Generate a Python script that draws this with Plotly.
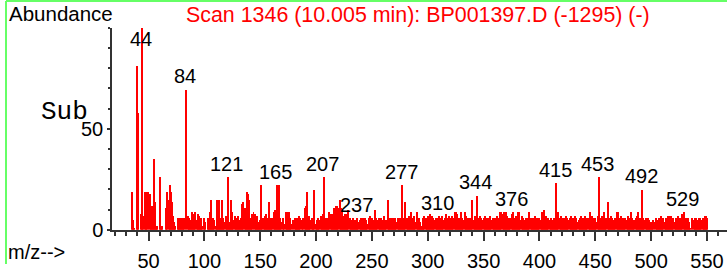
import plotly.graph_objects as go

# m/z start of the intensity table (one value per integer m/z)
MZ_START = 30
abundance = [
    0, 0, 0, 0, 0, 19, 5, 1, 0, 0,            # 30-39
    81, 58, 0, 8, 100, 7, 0, 19, 6, 19,       # 40-49
    19, 18, 4, 12, 11, 35, 14, 2, 2, 0,       # 50-59
    26, 2, 2, 0, 0, 0, 11, 19, 15, 22,        # 60-69
    19, 14, 7, 4, 2, 0, 6, 6, 5, 6,           # 70-79
    6, 3, 6, 0, 69.5, 7, 6, 5, 4, 9,          # 80-89
    8, 7, 9, 5, 8, 7, 4, 6, 2, 0,             # 90-99
    6, 4, 0, 6, 5, 9, 15, 4, 6, 5,            # 100-109
    2, 15, 6, 15, 5, 6, 15, 6, 4, 7,          # 110-119
    7, 26, 4, 3, 15, 9, 5, 7, 6, 4,           # 120-129
    7, 5, 4, 6, 13, 14, 11, 4, 19, 18,        # 130-139
    15, 6, 3, 8, 9, 8, 6, 7, 4, 2,            # 140-149
    5, 22, 6, 6, 7, 8, 4, 6, 14, 6,           # 150-159
    5, 6, 9, 10, 4, 22, 5, 22, 6, 4,          # 160-169
    6, 3, 0, 9, 9, 8, 9, 6, 3, 5,             # 170-179
    0, 6, 6, 5, 6, 7, 6, 5, 6, 0,             # 180-189
    11, 12, 19, 6, 7, 5, 6, 4, 20, 0,         # 190-199
    3, 5, 6, 5, 7, 4, 8, 26, 6, 5,            # 200-209
    6, 5, 9, 8, 8, 6, 11, 11, 12, 12,         # 210-219
    11, 15, 11, 10, 7, 6, 8, 7, 8, 10,        # 220-229
    6, 5, 4, 6, 5, 5, 4, 6, 4, 5,             # 230-239
    6, 5, 6, 4, 6, 5, 3, 6, 7, 5,             # 240-249
    6, 4, 5, 10, 6, 5, 6, 4, 6, 5,            # 250-259
    4, 7, 5, 5, 15, 6, 5, 6, 4, 6,            # 260-269
    5, 6, 4, 6, 5, 6, 4, 22, 6, 5,            # 270-279
    14, 6, 5, 7, 4, 9, 6, 5, 7, 4,            # 280-289
    9, 5, 6, 4, 2, 1, 6, 7, 6, 5,             # 290-299
    7, 6, 8, 5, 7, 6, 5, 6, 5, 6,             # 300-309
    7, 5, 6, 7, 5, 6, 8, 5, 6, 7,             # 310-319
    5, 6, 7, 6, 9, 9, 8, 5, 6, 5,             # 320-329
    9, 6, 5, 9, 7, 5, 6, 5, 6, 6,             # 330-339
    15, 5, 7, 5, 17, 6, 5, 7, 6, 5,           # 340-349
    6, 7, 5, 6, 4, 6, 7, 5, 6, 5,             # 350-359
    6, 4, 7, 6, 5, 9, 9, 8, 9, 6,             # 360-369
    9, 7, 5, 6, 6, 8, 9, 5, 6, 7,             # 370-379
    6, 9, 9, 5, 7, 6, 5, 4, 6, 6,             # 380-389
    5, 9, 6, 4, 6, 5, 7, 5, 6, 4,             # 390-399
    6, 5, 9, 9, 10, 6, 7, 4, 6, 5,            # 400-409
    6, 4, 5, 6, 5, 23, 9, 9, 6, 7,            # 410-419
    6, 5, 6, 4, 7, 6, 5, 6, 7, 4,             # 420-429
    6, 5, 7, 6, 4, 5, 6, 7, 5, 6,             # 430-439
    6, 7, 5, 6, 6, 9, 5, 7, 6, 5,             # 440-449
    6, 4, 7, 26, 6, 5, 7, 6, 9, 5,            # 450-459
    6, 14, 6, 5, 7, 6, 5, 4, 6, 9,            # 460-469
    9, 5, 6, 7, 5, 6, 4, 6, 5, 7,             # 470-479
    6, 5, 9, 6, 4, 5, 6, 7, 9, 5,             # 480-489
    6, 5, 20, 6, 5, 6, 4, 6, 5, 4,            # 490-499
    2, 4, 5, 4, 6, 5, 4, 6, 5, 7,             # 500-509
    5, 6, 4, 6, 5, 7, 7, 6, 7, 5,             # 510-519
    6, 4, 6, 5, 7, 6, 5, 6, 8, 9,             # 520-529
    5, 6, 5, 6, 4, 1, 0, 6, 5, 6,             # 530-539
    6, 5, 4, 6, 6, 5, 6, 6, 7, 7,             # 540-549
    6,                                        # 550
]
mz_values = list(range(MZ_START, MZ_START + len(abundance)))

labeled_peaks = [44, 84, 121, 165, 207, 237, 277, 310, 344, 376, 415, 453, 492, 529]
x_tick_values = [50, 100, 150, 200, 250, 300, 350, 400, 450, 500, 550]
y_tick_values = [0, 50]

title_text = "Scan 1346 (10.005 min): BP001397.D (-1295) (-)"

W, H = 727, 275
FONT = "Liberation Sans, Arial, sans-serif"

def px_x(p):
    return p / W

def px_y(p):
    return 1 - p / H

fig = go.Figure()
fig.add_trace(go.Bar(
    x=mz_values, y=abundance, width=0.9,
    marker=dict(color="#ff0000", line=dict(width=0)),
    hoverinfo="x+y",
))

annotations = []
for mz in labeled_peaks:
    v = abundance[mz - MZ_START]
    annotations.append(dict(
        x=mz, y=min(v, 88), xref="x", yref="y", text=str(mz),
        showarrow=False, yanchor="middle", xanchor="center", yshift=13, xshift=-1,
        font=dict(family=FONT, size=20, color="black"),
    ))

annotations += [
    dict(x=px_x(7), y=px_y(14), xref="paper", yref="paper", text="Abundance",
         showarrow=False, xanchor="left", yanchor="middle",
         font=dict(family=FONT, size=20.5, color="black")),
    dict(x=px_x(418), y=px_y(16), xref="paper", yref="paper", text=title_text,
         showarrow=False, xanchor="center", yanchor="middle",
         font=dict(family=FONT, size=21.4, color="#ff0000")),
    dict(x=px_x(64), y=px_y(117), xref="paper", yref="paper", text="Sub",
         showarrow=False, xanchor="center", yanchor="middle",
         font=dict(family="Liberation Mono, Courier New, monospace", size=26, color="black")),
    dict(x=px_x(6), y=px_y(262), xref="paper", yref="paper", text="m/z-->",
         showarrow=False, xanchor="left", yanchor="middle",
         font=dict(family=FONT, size=20, color="black")),
]

shapes = [
    dict(type="line", xref="paper", yref="paper", x0=px_x(6), x1=1.0, y0=px_y(1), y1=px_y(1),
         line=dict(color="#66ff66", width=2)),
    dict(type="line", xref="paper", yref="paper", x0=px_x(6), x1=px_x(6), y0=px_y(1), y1=0,
         line=dict(color="#66ff66", width=2)),
]

x0_px, x1_px = 112, 727
y0_px, y1_px = 239.3, 29
xr0 = (x0_px - 92.65) / 1.117
xr1 = (x1_px - 92.65) / 1.117

fig.update_layout(
    width=W, height=H, autosize=False,
    margin=dict(l=0, r=0, t=0, b=0),
    paper_bgcolor="white", plot_bgcolor="white",
    showlegend=False, bargap=0,
    font=dict(family=FONT, size=20, color="black"),
    annotations=annotations, shapes=shapes,
    xaxis=dict(
        domain=[px_x(x0_px), 1.0], range=[xr0, xr1],
        showline=True, linecolor="#333333", linewidth=1.5,
        showgrid=False, zeroline=False,
        ticks="outside", ticklen=10, tickwidth=1.5, tickcolor="#333333",
        ticklabelstandoff=3,
        tickvals=x_tick_values, ticktext=[str(v) for v in x_tick_values],
        tickfont=dict(family=FONT, size=20, color="black"),
        minor=dict(ticks="outside", ticklen=5, tickwidth=1.5, tickcolor="#333333",
                   dtick=10, tick0=0, showgrid=False),
    ),
    yaxis=dict(
        domain=[px_y(y0_px), px_y(y1_px)], range=[0, 100],
        showline=True, linecolor="#333333", linewidth=1.5,
        showgrid=False, zeroline=False,
        ticks="outside", ticklen=3, tickwidth=1.5, tickcolor="#333333",
        tickvals=y_tick_values, ticktext=[str(v) for v in y_tick_values],
        tickfont=dict(family=FONT, size=20, color="black"),
        minor=dict(ticks="outside", ticklen=2, tickwidth=1.5, tickcolor="#333333",
                   dtick=10, tick0=0, showgrid=False),
    ),
)

fig.write_html(
    "out.html",
    config={"responsive": False, "displayModeBar": False},
    post_script=(
        "document.body.style.margin='0';document.body.style.overflow='hidden';"
    ),
)
